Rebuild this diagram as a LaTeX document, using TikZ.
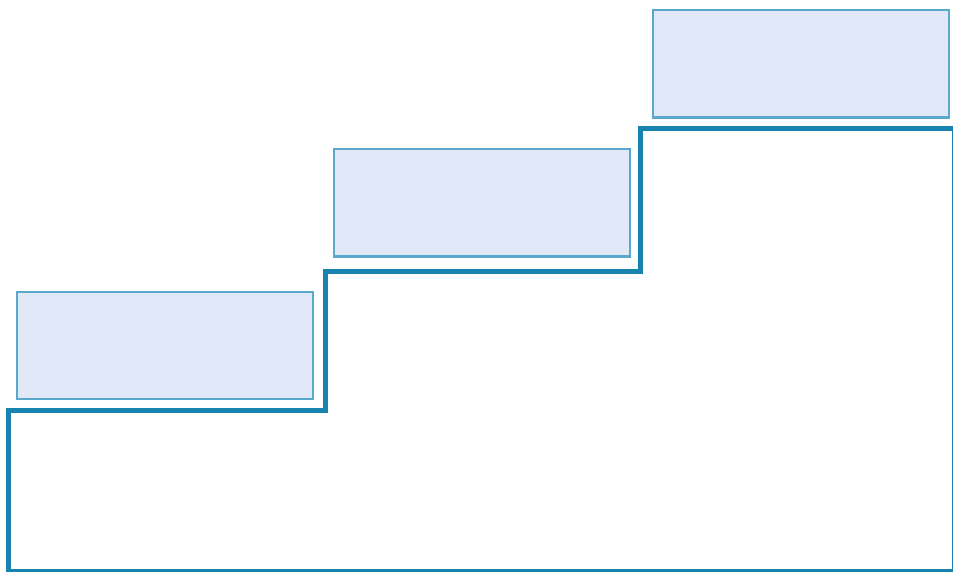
\documentclass[tikz,border=0pt]{standalone}
\begin{document}
\begin{tikzpicture}[x=1pt,y=-1pt,
  stepbox/.style={draw=boxline,fill=boxfill,line width=2.2pt,minimum width=296pt,minimum height=107.5pt,inner sep=0pt,rectangle},
  stair/.style={draw=stairline,line width=5pt,line join=miter}]
\definecolor{boxline}{HTML}{5AA8CC}
\definecolor{boxfill}{HTML}{E1E8F7}
\definecolor{stairline}{HTML}{1783AE}
\useasboundingbox (0,0) rectangle (953,571);
\node[stepbox] (b1) at (165,345.5) {};
\node[stepbox] (b2) at (482.2,202.8) {};
\node[stepbox] (b3) at (801,63.8) {};
\coordinate (s0) at (8.5,571);
\coordinate (s1) at (8.5,410.5);
\coordinate (s2) at (325,410.5);
\coordinate (s3) at (325,271);
\coordinate (s4) at (640.5,271);
\coordinate (s5) at (640.5,128.5);
\coordinate (s6) at (954.8,128.5);
\coordinate (s7) at (954.8,571);
\draw[stair] (s0) -- (s1) -- (s2) -- (s3) -- (s4) -- (s5) -- (s6) -- (s7) -- cycle;
\end{tikzpicture}
\end{document}
